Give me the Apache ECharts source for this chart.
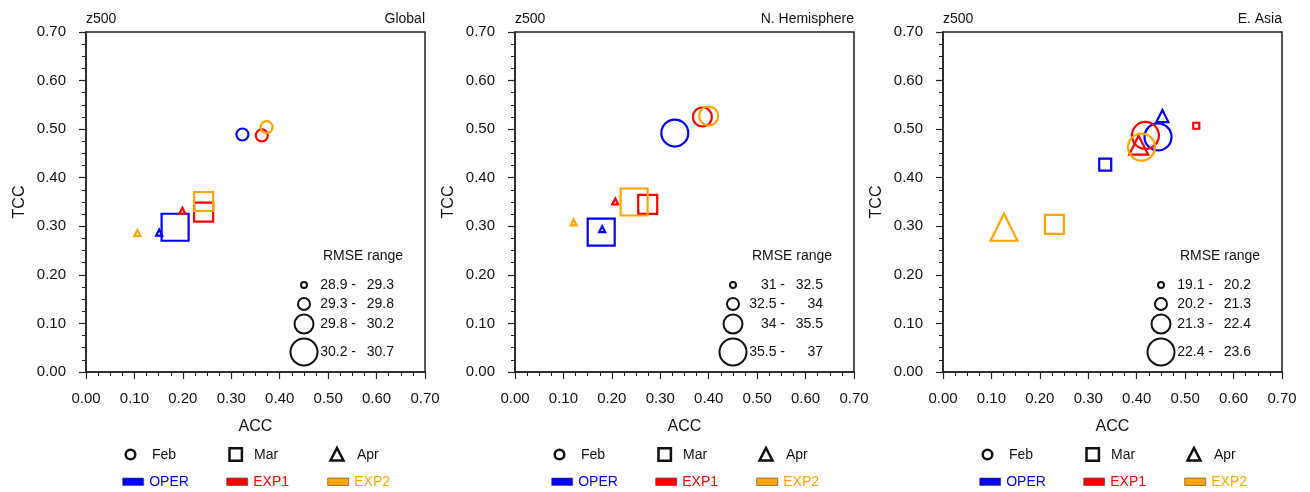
<!DOCTYPE html>
<html><head><meta charset="utf-8">
<script src="https://cdn.jsdelivr.net/npm/echarts@6/dist/echarts.min.js"></script>
<style>html,body{margin:0;padding:0;background:#fff}#c{width:1310px;height:492px}</style>
</head><body><div id="c"></div>
<script>
// ---------- data ----------
const regions = ['Global', 'N. Hemisphere', 'E. Asia'];
const varName = 'z500';
const months = ['Feb', 'Mar', 'Apr'];
const experiments = ['OPER', 'EXP1', 'EXP2'];
const tickLabels = ['0.00', '0.10', '0.20', '0.30', '0.40', '0.50', '0.60', '0.70'];

// rows = experiments (OPER, EXP1, EXP2), cols = months (Feb, Mar, Apr)
const accGlobal = [[0.323, 0.184, 0.151], [0.363, 0.243, 0.199], [0.373, 0.243, 0.106]];
const tccGlobal = [[0.489, 0.298, 0.287], [0.487, 0.329, 0.332], [0.504, 0.351, 0.286]];
const rmseBinGlobal = [[2, 4, 1], [2, 3, 1], [2, 3, 1]];

const accNH = [[0.330, 0.178, 0.180], [0.387, 0.274, 0.207], [0.400, 0.246, 0.121]];
const tccNH = [[0.492, 0.288, 0.294], [0.525, 0.345, 0.351], [0.527, 0.350, 0.308]];
const rmseBinNH = [[4, 4, 1], [3, 3, 1], [3, 4, 1]];

const accEA = [[0.444, 0.335, 0.453], [0.418, 0.523, 0.404], [0.410, 0.230, 0.126]];
const tccEA = [[0.484, 0.427, 0.527], [0.487, 0.507, 0.467], [0.463, 0.304, 0.298]];
const rmseBinEA = [[4, 2, 2], [4, 1, 3], [4, 3, 4]];

const rmseRangesGlobal = [['28.9', '29.3'], ['29.3', '29.8'], ['29.8', '30.2'], ['30.2', '30.7']];
const rmseRangesNH = [['31', '32.5'], ['32.5', '34'], ['34', '35.5'], ['35.5', '37']];
const rmseRangesEA = [['19.1', '20.2'], ['20.2', '21.3'], ['21.3', '22.4'], ['22.4', '23.6']];

// ---------- styling ----------
const expColors = ['#0000ff', '#ff0000', '#ffa500'];
const monthSymbols = ['circle', 'rect', 'triangle'];
const binSizes = [6, 12, 19, 27];
const FONT = '"Liberation Sans", Arial, Helvetica, sans-serif';
const INK = '#111';
const gridLefts = [86, 515, 943];
const GT = 32, GW = 339, GH = 340;

const panels = [
  { acc: accGlobal, tcc: tccGlobal, bin: rmseBinGlobal, ranges: rmseRangesGlobal },
  { acc: accNH, tcc: tccNH, bin: rmseBinNH, ranges: rmseRangesNH },
  { acc: accEA, tcc: tccEA, bin: rmseBinEA, ranges: rmseRangesEA }
];

const grids = [], xAxes = [], yAxes = [], series = [], graphics = [];

function txt(x, y, s, size, color, align, vAlign) {
  return { type: 'text', silent: true, style: { text: s, x: x, y: y, font: size + 'px ' + FONT, fontSize: size, fontFamily: FONT,
    fill: color, align: align || 'left', textAlign: align || 'left', verticalAlign: vAlign || 'middle', textVerticalAlign: vAlign || 'middle' } };
}

panels.forEach((p, i) => {
  const L = gridLefts[i];
  grids.push({ left: L, top: GT, width: GW, height: GH, show: true, borderColor: '#222', borderWidth: 1.5, backgroundColor: 'transparent' });
  const axisCommon = {
    gridIndex: i, type: 'value', min: 0, max: 0.7, interval: 0.1,
    axisLine: { show: true, onZero: false, lineStyle: { color: '#222', width: 1.5 } },
    axisTick: { show: true, inside: false, length: 7, lineStyle: { color: '#222', width: 1.2 } },
    minorTick: { show: true, splitNumber: 4, length: 4, lineStyle: { color: '#222', width: 1 } },
    splitLine: { show: false }, minorSplitLine: { show: false },
    axisLabel: { color: INK, fontSize: 15, fontFamily: FONT, margin: 19, formatter: v => tickLabels[Math.round(v * 10)] },
    nameLocation: 'middle', nameTextStyle: { color: INK, fontSize: 16, fontFamily: FONT }
  };
  xAxes.push(Object.assign({}, axisCommon, { name: 'ACC', nameGap: 47 }));
  yAxes.push(Object.assign({}, axisCommon, { name: 'TCC', nameGap: 58, axisLabel: Object.assign({}, axisCommon.axisLabel, { margin: 20 }) }));

  experiments.forEach((e, k) => {
    series.push({
      type: 'scatter', name: e, xAxisIndex: i, yAxisIndex: i, silent: true,
      data: months.map((m, j) => ({
        value: [p.acc[k][j], p.tcc[k][j]],
        symbol: monthSymbols[j],
        symbolSize: binSizes[p.bin[k][j] - 1]
      })),
      itemStyle: { color: 'rgba(0,0,0,0)', borderColor: expColors[k], borderWidth: 2.2, opacity: 1 },
      emphasis: { disabled: true }
    });
  });

  // titles
  graphics.push(txt(L, 19, varName, 14, INK, 'left'));
  graphics.push(txt(L + GW, 19, regions[i], 14, INK, 'right'));

  // RMSE legend
  graphics.push(txt(L + 237, 256, 'RMSE range', 14, INK, 'left'));
  const ry = [285, 304, 324, 352];
  p.ranges.forEach((r, b) => {
    graphics.push({ type: 'circle', silent: true, shape: { cx: L + 218, cy: ry[b], r: binSizes[b] / 2 },
      style: { fill: 'none', stroke: INK, lineWidth: 2 } });
    graphics.push(txt(L + 270, ry[b], r[0] + ' -', 14, INK, 'right'));
    graphics.push(txt(L + 308, ry[b], r[1], 14, INK, 'right'));
  });

  // month (shape) legend
  const my = 454.5;
  graphics.push({ type: 'circle', silent: true, shape: { cx: L + 44.5, cy: my, r: 4.8 }, style: { fill: 'none', stroke: INK, lineWidth: 2.5 } });
  graphics.push(txt(L + 66, 455, months[0], 14, INK, 'left'));
  graphics.push({ type: 'rect', silent: true, shape: { x: L + 143.5, y: my - 6.2, width: 12.4, height: 12.4 }, style: { fill: 'none', stroke: INK, lineWidth: 2.5 } });
  graphics.push(txt(L + 168, 455, months[1], 14, INK, 'left'));
  graphics.push({ type: 'polygon', silent: true, shape: { points: [[L + 251, my - 6.5], [L + 257.5, my + 6], [L + 244.5, my + 6]] }, style: { fill: 'none', stroke: INK, lineWidth: 2.5, lineJoin: 'miter' } });
  graphics.push(txt(L + 271, 455, months[2], 14, INK, 'left'));

  // experiment (colour) legend
  const ex = [36.7, 140.7, 241.7];
  experiments.forEach((e, k) => {
    graphics.push({ type: 'rect', silent: true, shape: { x: L + ex[k], y: 478, width: 21, height: 7.5 }, style: { fill: expColors[k], stroke: '#444', lineWidth: 0.6 } });
    graphics.push(txt(L + ex[k] + 26.5, 482, e, 14, expColors[k], 'left'));
  });
});

const chart = echarts.init(document.getElementById('c'), null, { renderer: 'canvas' });
chart.setOption({
  animation: false,
  backgroundColor: '#fff',
  grid: grids, xAxis: xAxes, yAxis: yAxes, series: series,
  graphic: { elements: graphics }
});
</script></body></html>
